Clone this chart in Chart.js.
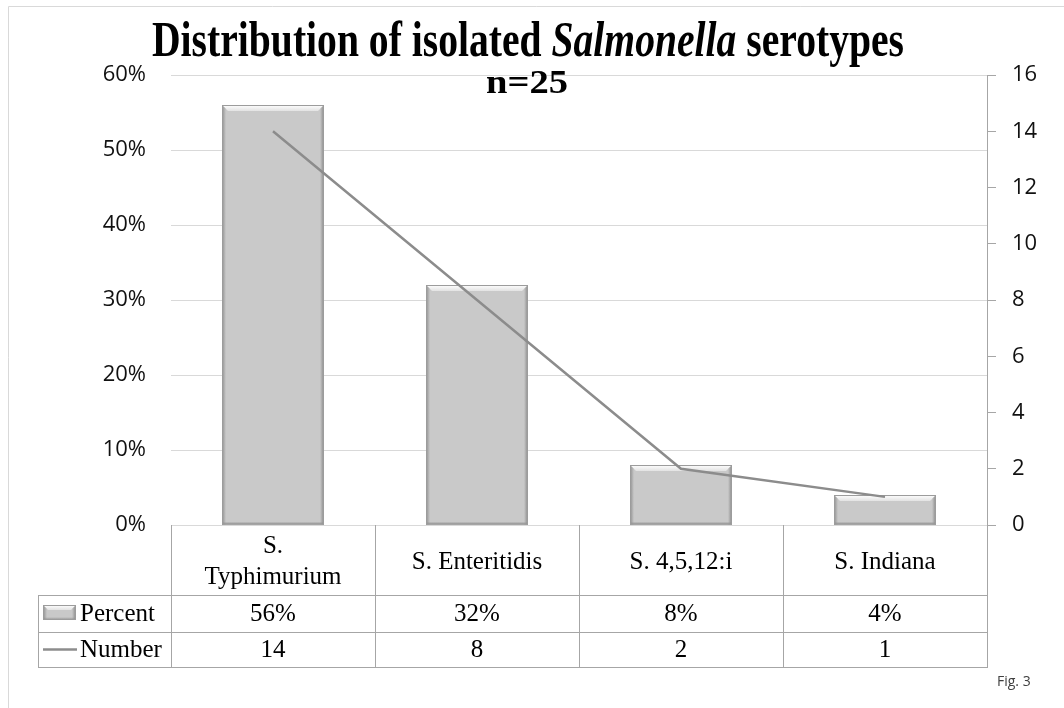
<!DOCTYPE html>
<html>
<head>
<meta charset="utf-8">
<script src="https://cdn.jsdelivr.net/npm/chart.js@4.4.1/dist/chart.umd.min.js"></script>
<style>
  html, body { margin: 0; padding: 0; background: #fff; }
  #wrap { width: 1064px; height: 708px; }
</style>
</head>
<body>
<div id="wrap"><canvas id="chart" width="1064" height="708"></canvas></div>
<script>
// data
const categories = [['S.', 'Typhimurium'], 'S. Enteritidis', 'S. 4,5,12:i', 'S. Indiana'];
const percentValues = [56, 32, 8, 4];
const numberValues = [14, 8, 2, 1];
const seriesNames = ['Percent', 'Number'];

const SERIF = '"Liberation Serif", "Times New Roman", serif';
const SANS = '"Open Sans", "Liberation Sans", sans-serif';
const TABLE_LINE = '#a6a6a6';

// bevelled look for the grey bars (uses the bar elements laid out by chart.js)
function bevelRect(ctx, left, top, right, bottom) {
    const b = Math.min(6, (bottom - top) / 3);
    ctx.save();
    ctx.fillStyle = '#c9c9c9';
    ctx.fillRect(left, top, right - left, bottom - top);
    // top highlight
    let g = ctx.createLinearGradient(0, top, 0, top + b);
    g.addColorStop(0, '#ffffff');
    g.addColorStop(1, '#e2e2e2');
    ctx.fillStyle = g;
    ctx.beginPath();
    ctx.moveTo(left, top); ctx.lineTo(right, top);
    ctx.lineTo(right - b, top + b); ctx.lineTo(left + b, top + b);
    ctx.closePath(); ctx.fill();
    // left side shade
    const s = 4;
    g = ctx.createLinearGradient(left, 0, left + s, 0);
    g.addColorStop(0, '#8e8e8e');
    g.addColorStop(1, '#c9c9c9');
    ctx.fillStyle = g;
    ctx.beginPath();
    ctx.moveTo(left, top); ctx.lineTo(left + s, top + s);
    ctx.lineTo(left + s, bottom); ctx.lineTo(left, bottom);
    ctx.closePath(); ctx.fill();
    // right side shade
    g = ctx.createLinearGradient(right - s, 0, right, 0);
    g.addColorStop(0, '#c9c9c9');
    g.addColorStop(1, '#888888');
    ctx.fillStyle = g;
    ctx.beginPath();
    ctx.moveTo(right, top); ctx.lineTo(right - s, top + s);
    ctx.lineTo(right - s, bottom); ctx.lineTo(right, bottom);
    ctx.closePath(); ctx.fill();
    // bottom shade
    g = ctx.createLinearGradient(0, bottom - 3, 0, bottom);
    g.addColorStop(0, 'rgba(150,150,150,0)');
    g.addColorStop(1, '#8a8a8a');
    ctx.fillStyle = g;
    ctx.fillRect(left, bottom - 3, right - left, 3);
    ctx.strokeStyle = '#9c9c9c';
    ctx.lineWidth = 1;
    ctx.strokeRect(left + 0.5, top + 0.5, right - left - 1, bottom - top - 1);
    ctx.restore();
}

const bevelPlugin = {
    id: 'bevel',
    afterDatasetDraw(chart, args) {
        if (args.index !== 0) return;
        const ctx = chart.ctx;
        args.meta.data.forEach(bar => {
            const p = bar.getProps(['x', 'y', 'base', 'width'], true);
            bevelRect(ctx, p.x - p.width / 2, p.y, p.x + p.width / 2, p.base);
        });
    }
};

function drawTitle(ctx) {
    const parts = [
        { t: 'Distribution of isolated ', f: 'bold 50px ' + SERIF },
        { t: 'Salmonella', f: 'italic bold 50px ' + SERIF },
        { t: ' serotypes', f: 'bold 50px ' + SERIF }
    ];
    let total = 0;
    parts.forEach(p => { ctx.font = p.f; p.w = ctx.measureText(p.t).width; total += p.w; });
    ctx.save();
    ctx.fillStyle = '#000';
    ctx.textBaseline = 'alphabetic';
    ctx.textAlign = 'left';
    ctx.translate(528, 56);
    ctx.scale(752 / total, 1);
    let x = -total / 2;
    parts.forEach(p => { ctx.font = p.f; ctx.fillText(p.t, x, 0); x += p.w; });
    ctx.restore();

    ctx.save();
    ctx.font = 'bold 34px ' + SERIF;
    const w = ctx.measureText('n=25').width;
    ctx.translate(527, 93);
    ctx.scale(82 / w, 1);
    ctx.textAlign = 'center';
    ctx.fillStyle = '#000';
    ctx.fillText('n=25', 0, 0);
    ctx.restore();
}

const tablePlugin = {
    id: 'dataTable',
    afterDraw(chart) {
        const ctx = chart.ctx;
        const area = chart.chartArea;
        const xs = chart.scales.x;
        const n = categories.length;
        const step = (area.right - area.left) / n;
        const top = area.bottom;
        const r1 = top + 70, r2 = r1 + 37, r3 = r2 + 35;
        const legLeft = 38;

        // frame of the whole chart object
        ctx.save();
        ctx.strokeStyle = '#d9d9d9';
        ctx.lineWidth = 1;
        ctx.beginPath();
        ctx.moveTo(8.5, 708); ctx.lineTo(8.5, 6.5); ctx.lineTo(1064, 6.5);
        ctx.stroke();
        ctx.restore();

        // grid of the table
        ctx.save();
        ctx.strokeStyle = TABLE_LINE;
        ctx.lineWidth = 1;
        ctx.beginPath();
        for (let i = 0; i <= n; i++) {
            const x = Math.round(area.left + i * step) + 0.5;
            ctx.moveTo(x, top); ctx.lineTo(x, r3);
        }
        ctx.moveTo(legLeft + 0.5, r1); ctx.lineTo(legLeft + 0.5, r3);
        [r1, r2, r3].forEach(y => {
            ctx.moveTo(legLeft, Math.round(y) + 0.5);
            ctx.lineTo(area.right + 1, Math.round(y) + 0.5);
        });
        ctx.stroke();
        ctx.restore();

        // cells
        ctx.save();
        ctx.fillStyle = '#000';
        ctx.textAlign = 'center';
        ctx.textBaseline = 'middle';
        ctx.font = '25px ' + SERIF;
        categories.forEach((c, i) => {
            const cx = xs.getPixelForValue(i);
            if (Array.isArray(c)) {
                ctx.fillText(c[0], cx, top + 21);
                ctx.fillText(c[1], cx, top + 52);
            } else {
                ctx.fillText(c, cx, top + 37);
            }
            ctx.fillText(percentValues[i] + '%', cx, (r1 + r2) / 2 + 1);
            ctx.fillText(String(numberValues[i]), cx, (r2 + r3) / 2 + 1);
        });
        // legend keys
        ctx.textAlign = 'left';
        ctx.fillText(seriesNames[0], 80, (r1 + r2) / 2 + 1);
        ctx.fillText(seriesNames[1], 80, (r2 + r3) / 2 + 1);
        ctx.restore();

        bevelRect(ctx, 43, r1 + 10, 76, r1 + 25);
        ctx.save();
        ctx.strokeStyle = '#8c8c8c';
        ctx.lineWidth = 2.5;
        ctx.beginPath();
        ctx.moveTo(43, (r2 + r3) / 2); ctx.lineTo(77, (r2 + r3) / 2);
        ctx.stroke();
        ctx.restore();

        // caption
        ctx.save();
        ctx.font = '14px ' + SANS;
        ctx.fillStyle = '#404040';
        ctx.textBaseline = 'middle';
        ctx.fillText('Fig. 3', 997, 682);
        ctx.restore();

        drawTitle(ctx);
    }
};

new Chart(document.getElementById('chart'), {
    data: {
        labels: categories,
        datasets: [
            {
                type: 'bar',
                label: seriesNames[0],
                data: percentValues,
                yAxisID: 'y',
                backgroundColor: '#c9c9c9',
                borderWidth: 0,
                categoryPercentage: 1,
                barPercentage: 0.5,
                order: 1
            },
            {
                type: 'line',
                label: seriesNames[1],
                data: numberValues,
                yAxisID: 'y1',
                borderColor: '#8c8c8c',
                borderWidth: 2.5,
                pointRadius: 0,
                tension: 0,
                order: 0
            }
        ]
    },
    options: {
        responsive: false,
        animation: false,
        events: [],
        layout: { padding: { top: 75, bottom: 183, left: 0, right: 0 } },
        plugins: { legend: { display: false }, tooltip: { enabled: false } },
        scales: {
            x: { display: false, offset: true },
            y: {
                position: 'left',
                min: 0, max: 60,
                ticks: {
                    stepSize: 10,
                    padding: 25,
                    color: '#111',
                    font: { family: SANS, size: 22 },
                    callback: v => v + '%'
                },
                grid: { color: '#d9d9d9', drawTicks: false },
                border: { display: false },
                afterFit: s => { s.width = 171; }
            },
            y1: {
                position: 'right',
                min: 0, max: 16,
                ticks: {
                    stepSize: 2,
                    padding: 16,
                    color: '#111',
                    font: { family: SANS, size: 22 }
                },
                grid: { drawOnChartArea: false, tickLength: 9, color: '#a6a6a6' },
                border: { color: '#a6a6a6' },
                afterFit: s => { s.width = 77; }
            }
        }
    },
    plugins: [bevelPlugin, tablePlugin]
});
</script>
</body>
</html>
